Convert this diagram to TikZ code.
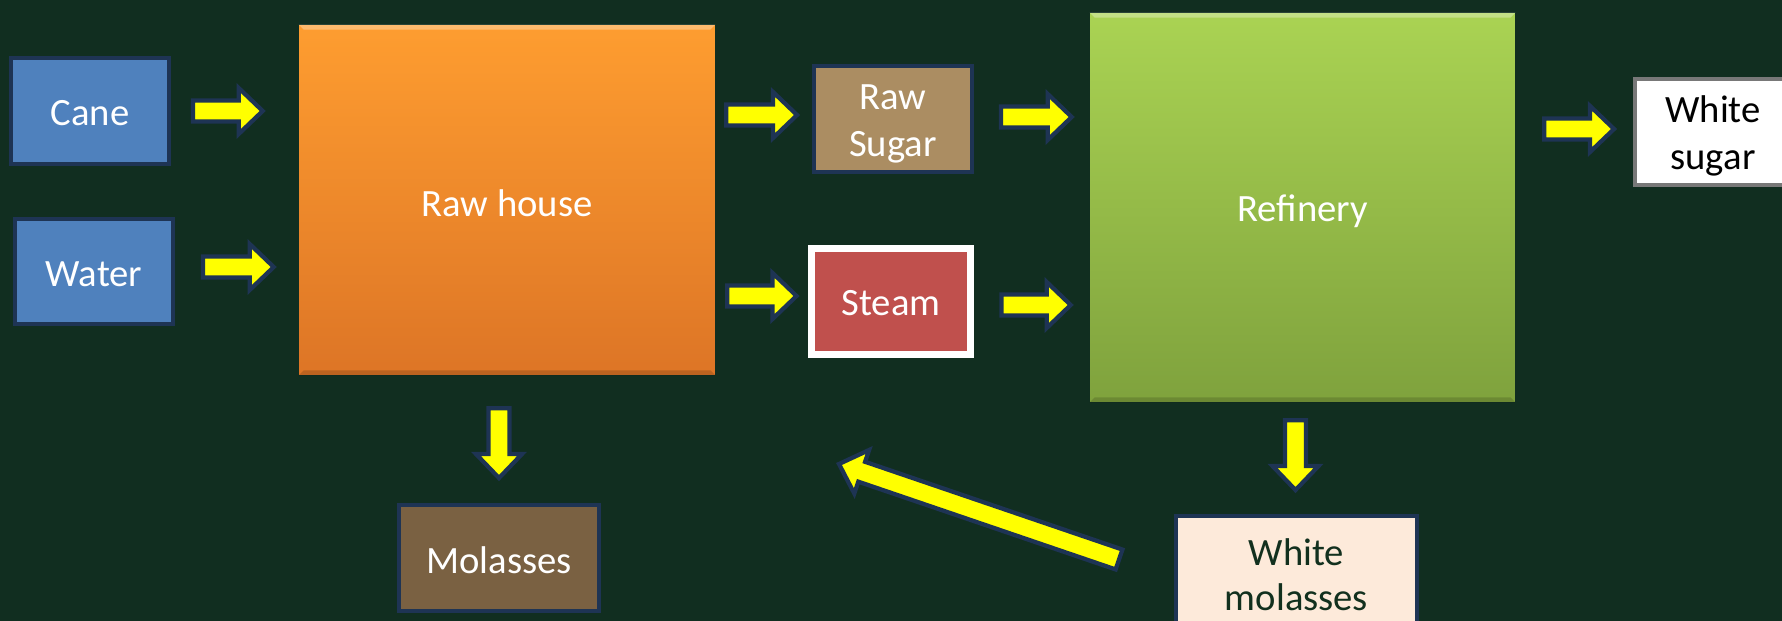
\documentclass[tikz,border=0pt]{standalone}
\usepackage{fontspec}
\setmainfont{Carlito}
\usetikzlibrary{calc}
\definecolor{bg}{RGB}{17,46,32}
\definecolor{navy}{RGB}{30,52,84}
\definecolor{canefill}{RGB}{79,129,189}
\definecolor{rawtop}{RGB}{254,157,48}
\definecolor{rawbot}{RGB}{221,117,38}
\definecolor{reftop}{RGB}{170,211,83}
\definecolor{refbot}{RGB}{127,162,61}
\definecolor{rsfill}{RGB}{171,141,98}
\definecolor{steamfill}{RGB}{192,80,77}
\definecolor{molfill}{RGB}{122,97,66}
\definecolor{wmfill}{RGB}{253,234,218}
\definecolor{wmtext}{RGB}{18,48,30}
\definecolor{wsborder}{RGB}{120,120,120}
\definecolor{arrowfill}{RGB}{255,255,0}
\tikzset{
  every node/.style={font=\fontsize{22}{27}\selectfont, align=center, inner sep=0pt},
  smallbox/.style={draw=navy, line width=0.08cm},
  boxtext/.style={text=white},
  flowarrowstyle/.style={draw=navy, fill=arrowfill, line width=0.085cm, line join=miter},
}
\newcommand\fasw{0.21cm}
\newcommand\fahw{0.46cm}
\newcommand\fahl{0.48cm}
\newcommand\flowarrow[2]{%
  \coordinate (faA) at #1;
  \coordinate (faB) at #2;
  \coordinate (faH) at ($(faB)!\fahl!(faA)$);
  \draw[flowarrowstyle] ($(faA)!\fasw!90:(faB)$) -- ($(faH)!\fasw!90:(faB)$)
    -- ($(faH)!\fahw!90:(faB)$) -- (faB) -- ($(faH)!\fahw!-90:(faB)$)
    -- ($(faH)!\fasw!-90:(faB)$) -- ($(faA)!\fasw!-90:(faB)$) -- cycle;
}
\begin{document}
\begin{tikzpicture}[x=0.02cm,y=-0.02cm]
\useasboundingbox (0,0) rectangle (1782,621);
\clip (0,0) rectangle (1782,621);
\fill[bg] (0,0) rectangle (1782,621);

% big process boxes
\node[top color=rawtop, bottom color=rawbot, minimum width=8.32cm, minimum height=7.00cm] (raw) at (507,200) {};
\fill[white, opacity=0.30] (raw.north west) -- (raw.north east) -- ($(raw.north east)+(-5,5)$) -- ($(raw.north west)+(5,5)$) -- cycle;
\fill[black, opacity=0.15] (raw.south west) -- (raw.south east) -- ($(raw.south east)+(-5,-5)$) -- ($(raw.south west)+(5,-5)$) -- cycle;
\node[boxtext] (raw-t) at ($(raw.center)+(0,3)$) {Raw house};
\node[top color=reftop, bottom color=refbot, minimum width=8.50cm, minimum height=7.78cm] (ref) at (1302.5,207.5) {};
\fill[white, opacity=0.30] (ref.north west) -- (ref.north east) -- ($(ref.north east)+(-5,5)$) -- ($(ref.north west)+(5,5)$) -- cycle;
\fill[black, opacity=0.15] (ref.south west) -- (ref.south east) -- ($(ref.south east)+(-5,-5)$) -- ($(ref.south west)+(5,-5)$) -- cycle;
\node[boxtext] (ref-t) at ($(ref.center)+(0,4)$) {Refinery};

% small boxes
\node[smallbox, fill=canefill, minimum width=3.16cm, minimum height=2.12cm] (cane) at (90,111) {};
\node[boxtext] (cane-t) at ($(cane.center)+(0,2)$) {Cane};
\node[smallbox, fill=canefill, minimum width=3.16cm, minimum height=2.10cm] (water) at (94,271.5) {};
\node[boxtext] (water-t) at ($(water.center)+(0,3)$) {Water};
\node[smallbox, fill=rsfill, minimum width=3.16cm, minimum height=2.12cm] (rs) at (893,119) {};
\node[boxtext] (rs-t) at ($(rs.center)+(0,5)$) {Raw\\Sugar};
\node[draw=white, line width=0.14cm, fill=steamfill, minimum width=3.18cm, minimum height=2.12cm] (steam) at (891,301.5) {};
\node[boxtext] (steam-t) at ($(steam.center)+(0,2)$) {Steam};
\node[draw=wsborder, line width=0.08cm, fill=white, minimum width=3.12cm, minimum height=2.12cm] (ws) at (1713,132) {};
\node[text=black] (ws-t) at ($(ws.center)+(0,4)$) {White\\sugar};
\node[smallbox, fill=molfill, minimum width=4.00cm, minimum height=2.12cm] (mol) at (499,558) {};
\node[boxtext] (mol-t) at ($(mol.center)+(0,2)$) {Molasses};
\node[smallbox, fill=wmfill, minimum width=4.82cm, minimum height=2.34cm] (wm) at (1296.5,574.5) {};
\node[text=wmtext, font=\fontsize{22}{25.5}\selectfont] (wm-t) at ($(wm.center)+(0,0)$) {White\\molasses};

% block arrows
\flowarrow{($(cane.east)+(22,0)$)}{($(cane.east -| raw.west)+(-36,0)$)}
\flowarrow{($(water.east)+(28,-4.5)$)}{($(water.east -| raw.west)+(-25,-4.5)$)}
\flowarrow{($(raw.east |- rs.west)+(11,-4)$)}{($(rs.west)+(-15,-4)$)}
\flowarrow{($(raw.east |- steam.west)+(12,-5.5)$)}{($(steam.west)+(-11.5,-5.5)$)}
\flowarrow{($(rs.east)+(27,-2)$)}{($(rs.east -| ref.west)+(-18,-2)$)}
\flowarrow{($(steam.east)+(27.5,3.5)$)}{($(steam.east -| ref.west)+(-19,3.5)$)}
\flowarrow{($(ref.east |- ws.west)+(29,-3)$)}{($(ws.west)+(-19,-3)$)}
\flowarrow{($(mol.north |- raw.south)+(0,33)$)}{($(mol.north)+(0,-25)$)}
\flowarrow{($(wm.north |- ref.south)+(-1,18)$)}{($(wm.north)+(-1,-24)$)}
\coordinate (back) at (839,464);
\flowarrow{($(wm.west)+(-55,-15)$)}{(back)}
\end{tikzpicture}
\end{document}
